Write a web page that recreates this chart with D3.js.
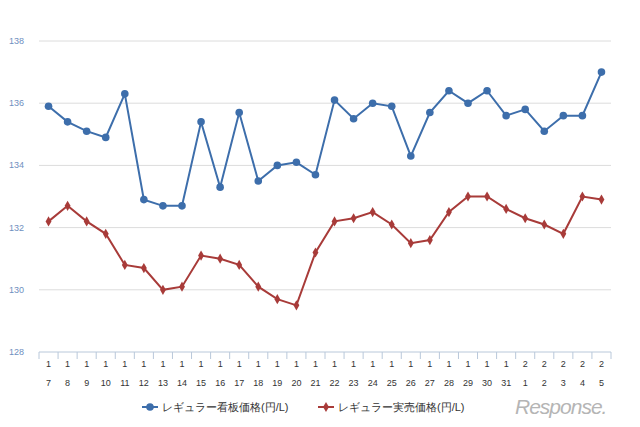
<!DOCTYPE html>
<html>
<head>
<meta charset="utf-8">
<script src="https://cdn.jsdelivr.net/npm/d3@7"></script>
<style>
  body { margin: 0; background: #fff; }
  text { font-family: "Liberation Sans", Arial, sans-serif; }
</style>
</head>
<body>
<div id="chart"></div>
<script>
// month / day labels
let months = [1,1,1,1,1,1,1,1,1,1,1,1,1,1,1,1,1,1,1,1,1,1,1,1,1,2,2,2,2,2];
let days = [7,8,9,10,11,12,13,14,15,16,17,18,19,20,21,22,23,24,25,26,27,28,29,30,31,1,2,3,4,5];
let signPrice = [135.9,135.4,135.1,134.9,136.3,132.9,132.7,132.7,135.4,133.3,135.7,133.5,134.0,134.1,133.7,136.1,135.5,136.0,135.9,134.3,135.7,136.4,136.0,136.4,135.6,135.8,135.1,135.6,135.6,137.0];
let salePrice = [132.2,132.7,132.2,131.8,130.8,130.7,130.0,130.1,131.1,131.0,130.8,130.1,129.7,129.5,131.2,132.2,132.3,132.5,132.1,131.5,131.6,132.5,133.0,133.0,132.6,132.3,132.1,131.8,133.0,132.9];
let yTicks = [128,130,132,134,136,138];
let seriesNames = ["レギュラー看板価格(円/L)", "レギュラー実売価格(円/L)"];
let seriesColors = ["#3d6eab", "#a83b39"];

let width = 640, height = 427;
let svg = d3.select("#chart").append("svg").attr("width", width).attr("height", height);

let idx = d3.range(days.length);
let x = d3.scaleBand().domain(idx).range([39, 611]);
let y = d3.scaleLinear().domain([128, 138]).range([352, 41]);

// grid
svg.append("g").selectAll("line").data(yTicks.slice(1)).enter().append("line")
  .attr("x1", 39).attr("x2", 611)
  .attr("y1", d => y(d)).attr("y2", d => y(d))
  .attr("stroke", "#dcdcdc").attr("stroke-width", 1);

svg.append("g").selectAll("text").data(yTicks).enter().append("text")
  .attr("x", 9).attr("y", d => y(d) + 3)
  .attr("font-size", 9).attr("fill", "#6f8fc0")
  .text(d => d);

// x axis
let ax = svg.append("g");
ax.append("line").attr("x1", 39).attr("x2", 611).attr("y1", 352).attr("y2", 352)
  .attr("stroke", "#b9c8da");
ax.selectAll(".tk").data(idx.concat([days.length])).enter().append("line")
  .attr("x1", d => d < days.length ? x(d) : 611).attr("x2", d => d < days.length ? x(d) : 611)
  .attr("y1", 352).attr("y2", 359).attr("stroke", "#b9c8da");
ax.selectAll(".m").data(idx).enter().append("text")
  .attr("x", d => x(d) + x.bandwidth() / 2).attr("y", 367)
  .attr("text-anchor", "middle").attr("font-size", 9).attr("fill", "#333")
  .text(d => months[d]);
ax.selectAll(".d").data(idx).enter().append("text")
  .attr("x", d => x(d) + x.bandwidth() / 2).attr("y", 386)
  .attr("text-anchor", "middle").attr("font-size", 9).attr("fill", "#333")
  .text(d => days[d]);

let cx = i => x(i) + x.bandwidth() / 2;
let line = d3.line().x((d, i) => cx(i)).y(d => y(d));

[signPrice, salePrice].forEach((s, k) => {
  svg.append("path").datum(s).attr("d", line)
    .attr("fill", "none").attr("stroke", seriesColors[k]).attr("stroke-width", 2);
  if (k === 0) {
    svg.append("g").selectAll("circle").data(s).enter().append("circle")
      .attr("cx", (d, i) => cx(i)).attr("cy", d => y(d)).attr("r", 3.8)
      .attr("fill", seriesColors[k]);
  } else {
    svg.append("g").selectAll("path").data(s).enter().append("path")
      .attr("d", d3.symbol(d3.symbolDiamond, 30))
      .attr("transform", (d, i) => `translate(${cx(i)},${y(d)})`)
      .attr("fill", seriesColors[k]);
  }
});

// legend
let lg = svg.append("g");
let lx = [142, 318];
seriesNames.forEach((n, k) => {
  lg.append("line").attr("x1", lx[k]).attr("x2", lx[k] + 16).attr("y1", 407).attr("y2", 407)
    .attr("stroke", seriesColors[k]).attr("stroke-width", 2);
  if (k === 0) lg.append("circle").attr("cx", lx[k] + 8).attr("cy", 407).attr("r", 3.8).attr("fill", seriesColors[k]);
  else lg.append("path").attr("d", d3.symbol(d3.symbolDiamond, 30))
    .attr("transform", `translate(${lx[k] + 8},407)`).attr("fill", seriesColors[k]);
  lg.append("text").attr("x", lx[k] + 20).attr("y", 411)
    .attr("font-size", 11).attr("fill", "#333")
    .attr("font-family", "'Noto Sans CJK JP', sans-serif").text(n);
});

svg.append("text").attr("x", 515).attr("y", 414)
  .attr("font-size", 21).attr("fill", "#b5b5b5").attr("font-style", "italic")
  .attr("font-family", "'DejaVu Sans', sans-serif").attr("letter-spacing", -1)
  .text("Response.");
</script>
</body>
</html>
